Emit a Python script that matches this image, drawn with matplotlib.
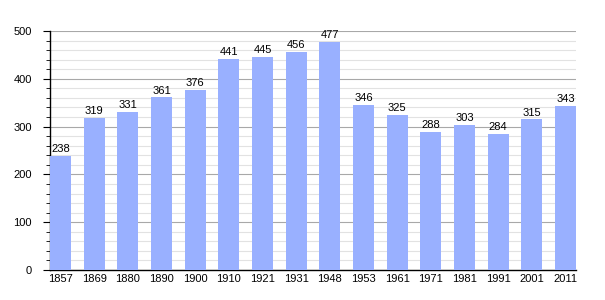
import matplotlib
matplotlib.use("Agg")
import matplotlib.pyplot as plt
from matplotlib.ticker import MultipleLocator

# population by census year
years = ["1857", "1869", "1880", "1890", "1900", "1910", "1921", "1931",
         "1948", "1953", "1961", "1971", "1981", "1991", "2001", "2011"]
population = [238, 319, 331, 361, 376, 441, 445, 456,
              477, 346, 325, 288, 303, 284, 315, 343]


def main():
    plt.rcParams["font.family"] = ["Liberation Sans", "DejaVu Sans"]
    fig = plt.figure(figsize=(6.05, 3.00), dpi=100)
    ax = fig.add_axes([50 / 605, 30 / 300, 526 / 605, 239 / 300])

    width = 0.62
    x = list(range(len(years)))
    ax.bar(x, population, width=width, color="#99b0ff", zorder=3)
    for xi, v in zip(x, population):
        ax.text(xi, v + 4, str(v), ha="center", va="bottom", fontsize=8, zorder=4)

    ax.set_xlim(-width / 2, len(years) - 1 + width / 2)
    ax.set_ylim(0, 500)
    ax.set_xticks(x)
    ax.set_xticklabels(years, fontsize=8)
    ax.tick_params(axis="x", length=0, pad=3)

    ax.yaxis.set_major_locator(MultipleLocator(100))
    ax.yaxis.set_minor_locator(MultipleLocator(20))
    ax.tick_params(axis="y", which="major", length=5, labelsize=8, pad=8)
    ax.tick_params(axis="y", which="minor", length=3)

    ax.grid(axis="y", which="major", color="#a8a8a8", lw=0.8, zorder=1)
    ax.grid(axis="y", which="minor", color="#e2e2e2", lw=0.8, zorder=0)

    ax.spines["top"].set_visible(False)
    ax.spines["right"].set_visible(False)
    ax.spines["left"].set_linewidth(1.0)
    ax.spines["bottom"].set_linewidth(1.0)

    fig.savefig("out.png", dpi=100)


if __name__ == "__main__":
    main()
